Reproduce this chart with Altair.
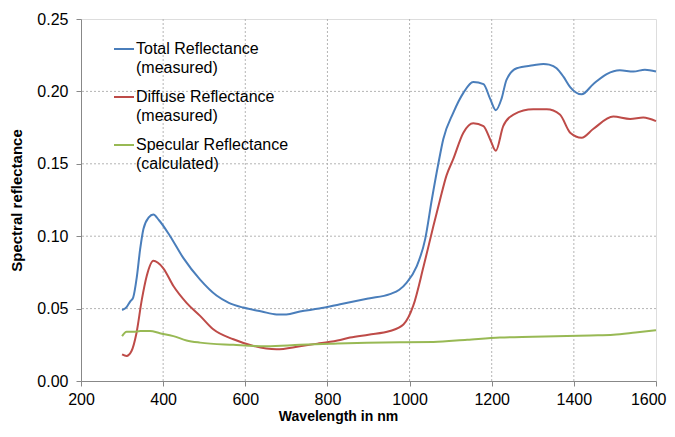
import altair as alt
import pandas as pd

series_names = ["Total Reflectance|(measured)", "Diffuse Reflectance|(measured)", "Specular Reflectance|(calculated)"]
series_colors = ["#4a7ebb", "#be4b48", "#98b954"]

total_wl = [300, 311, 320, 327, 336, 344, 352, 365, 376, 390, 417, 449, 490, 530, 560, 595, 640, 676, 700, 733, 780, 831, 900, 952, 975, 993, 1017, 1038, 1054, 1070, 1082, 1106, 1131, 1155, 1180, 1196, 1210, 1224, 1236, 1261, 1301, 1326, 1340, 1358, 1375, 1391, 1419, 1447, 1480, 1512, 1545, 1573, 1600]
total_val = [0.049, 0.051, 0.055, 0.0576, 0.072, 0.091, 0.105, 0.113, 0.115, 0.111, 0.100, 0.085, 0.070, 0.059, 0.054, 0.0507, 0.048, 0.046, 0.046, 0.048, 0.050, 0.053, 0.057, 0.060, 0.063, 0.068, 0.079, 0.098, 0.125, 0.150, 0.167, 0.185, 0.199, 0.2065, 0.205, 0.195, 0.187, 0.195, 0.208, 0.216, 0.218, 0.219, 0.2185, 0.216, 0.210, 0.203, 0.198, 0.205, 0.212, 0.2146, 0.2137, 0.215, 0.2137]

diffuse_wl = [300, 311, 323, 335, 348, 360, 376, 400, 425, 457, 490, 522, 571, 620, 676, 733, 780, 831, 855, 900, 952, 985, 1009, 1034, 1058, 1074, 1090, 1106, 1131, 1155, 1180, 1196, 1210, 1228, 1253, 1301, 1334, 1366, 1391, 1419, 1447, 1496, 1537, 1569, 1600]
diffuse_val = [0.0184, 0.0173, 0.0207, 0.033, 0.056, 0.0725, 0.083, 0.078, 0.0656, 0.054, 0.045, 0.0357, 0.0288, 0.0242, 0.0219, 0.024, 0.026, 0.0283, 0.030, 0.032, 0.0345, 0.039, 0.052, 0.079, 0.107, 0.125, 0.142, 0.153, 0.1715, 0.178, 0.176, 0.167, 0.159, 0.176, 0.184, 0.1876, 0.1876, 0.184, 0.1715, 0.168, 0.174, 0.1826, 0.181, 0.182, 0.1795]

specular_wl = [300, 311, 327, 345, 368, 392, 425, 457, 490, 571, 652, 733, 815, 896, 977, 1058, 1140, 1220, 1300, 1383, 1440, 1496, 1550, 1600]
specular_val = [0.031, 0.034, 0.034, 0.0345, 0.0345, 0.033, 0.031, 0.028, 0.0265, 0.025, 0.024, 0.025, 0.0258, 0.0265, 0.0268, 0.027, 0.0285, 0.030, 0.0305, 0.031, 0.0315, 0.032, 0.0335, 0.035]

x_ticks = [200, 400, 600, 800, 1000, 1200, 1400, 1600]
y_ticks = [0.00, 0.05, 0.10, 0.15, 0.20, 0.25]

rows = []
for name, wl, vals in [(series_names[0], total_wl, total_val),
                       (series_names[1], diffuse_wl, diffuse_val),
                       (series_names[2], specular_wl, specular_val)]:
    for i, (w, v) in enumerate(zip(wl, vals)):
        rows.append({"series": name, "wavelength": w, "reflectance": v, "order": i})
df = pd.DataFrame(rows)

# grid lines at the inner tick positions
vgrid = pd.DataFrame({"wavelength": x_ticks[1:-1]})
hgrid = pd.DataFrame({"reflectance": y_ticks[1:-1]})

font = "Liberation Sans"

x_enc = alt.X("wavelength:Q", scale=alt.Scale(domain=[200, 1600], nice=False),
              axis=alt.Axis(values=x_ticks, format="d", title="Wavelength in nm", titleX=257, titleY=28,
                            titleFontWeight="bold", titleFontSize=14, labelFontSize=16,
                            labelPadding=5, labelFlush=False, grid=False,
                            labelAlign={"condition": {"test": "datum.value == 1600", "value": "right"}, "value": "center"},
                            labelOffset={"condition": {"test": "datum.value == 1600", "value": 10}, "value": 0}))
y_enc = alt.Y("reflectance:Q", scale=alt.Scale(domain=[0, 0.25], nice=False),
              axis=alt.Axis(values=y_ticks, format=".2f", title="Spectral reflectance",
                            titleFontWeight="bold", titleFontSize=15, labelFontSize=16,
                            labelPadding=8, titlePadding=12, grid=False))

vrules = alt.Chart(vgrid).mark_rule(color="#b4b4b4", strokeWidth=1, strokeDash=[2, 2]).encode(x=x_enc)
hrules = alt.Chart(hgrid).mark_rule(color="#b4b4b4", strokeWidth=1, strokeDash=[2, 2]).encode(y=y_enc)

lines = alt.Chart(df).mark_line(strokeWidth=2, interpolate="monotone").encode(
    x=x_enc,
    y=y_enc,
    color=alt.Color("series:N", scale=alt.Scale(domain=series_names, range=series_colors),
                    legend=alt.Legend(title=None, orient="none", legendX=32, legendY=19,
                                      symbolType="stroke", symbolSize=400, symbolStrokeWidth=2,
                                      labelExpr="split(datum.label, '|')", labelFontSize=16,
                                      labelFont=font, labelLimit=300, rowPadding=10,
                                      labelBaseline="middle", labelOffset=1, padding=0)),
    order="order:Q",
)

chart = alt.layer(vrules, hrules, lines).properties(
    width=575, height=362,
    padding={"left": 73, "top": 11, "right": 11, "bottom": 43},
    autosize=alt.AutoSizeParams(type="none"),
).configure_view(
    stroke="#a6a6a6", strokeWidth=1.5,
).configure_axis(
    labelFont=font, titleFont=font, labelColor="#1a1a1a", titleColor="#1a1a1a",
    domainColor="#a6a6a6", tickColor="#a6a6a6", tickSize=5,
).configure(
    background="white",
    style={"guide-label": {"lineHeight": 19}},
)

chart.save("out.html", embed_options={"renderer": "svg", "actions": False})
